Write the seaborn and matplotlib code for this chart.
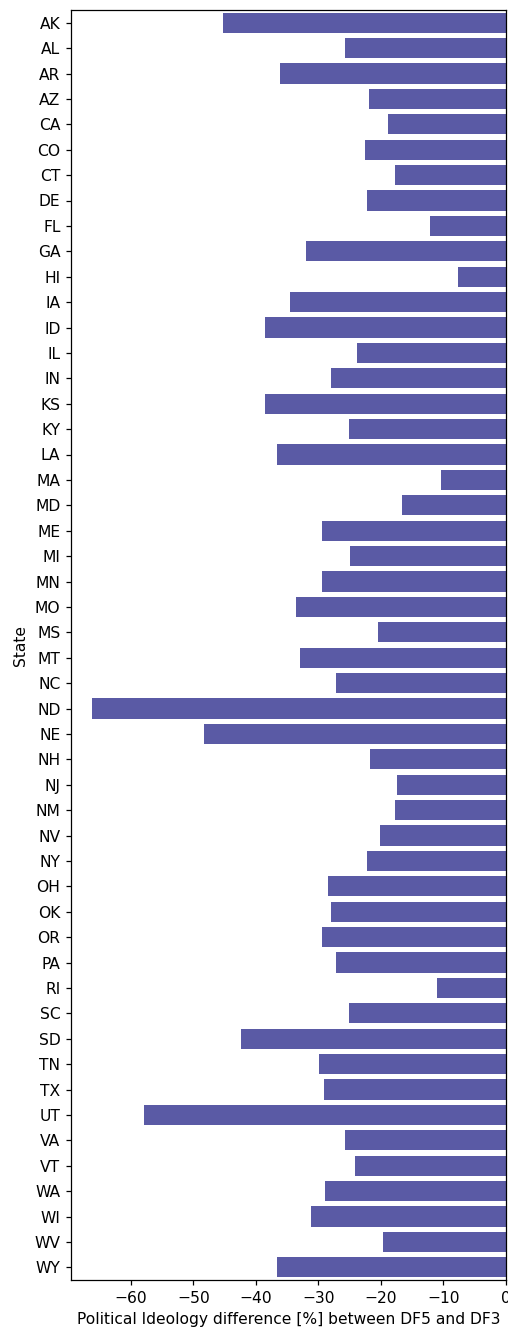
import matplotlib
matplotlib.use("Agg")
import matplotlib.pyplot as plt
import seaborn as sns
import pandas as pd

# --- Dane ---
states = ["AK", "AL", "AR", "AZ", "CA", "CO", "CT", "DE", "FL", "GA",
          "HI", "IA", "ID", "IL", "IN", "KS", "KY", "LA", "MA", "MD",
          "ME", "MI", "MN", "MO", "MS", "MT", "NC", "ND", "NE", "NH",
          "NJ", "NM", "NV", "NY", "OH", "OK", "OR", "PA", "RI", "SC",
          "SD", "TN", "TX", "UT", "VA", "VT", "WA", "WI", "WV", "WY"]
diff = [-45.3, -25.7, -36.1, -21.9, -18.9, -22.6, -17.7, -22.2, -12.2, -31.9,
        -7.7, -34.6, -38.6, -23.9, -27.9, -38.6, -25.1, -36.6, -10.4, -16.7,
        -29.4, -24.9, -29.4, -33.6, -20.4, -32.9, -27.2, -66.2, -48.3, -21.7,
        -17.5, -17.7, -20.2, -22.2, -28.4, -27.9, -29.4, -27.2, -11.0, -25.1,
        -42.3, -29.9, -29.1, -57.8, -25.7, -24.2, -28.9, -31.2, -19.7, -36.6]

df = pd.DataFrame({"State": states, "diff": diff})

# --- Wykres ---
DPI = 112
plt.rcParams['font.family'] = ['DejaVu Sans']
plt.rcParams['font.size'] = 10
fig = plt.figure(figsize=(509 / DPI, 1329 / DPI), dpi=DPI)
ax = fig.add_axes([71.3 / 509, 49 / 1329, (506 - 71.3) / 509, (1280 - 10) / 1329])

sns.barplot(x="diff", y="State", data=df, color="#5a5aa5", saturation=1, ax=ax)
ax.set_xlabel("Political Ideology difference [%] between DF5 and DF3")
ax.set_ylabel("State")
ax.set_xlim(-69.5, 0)

fig.savefig("out.png", dpi=DPI)
